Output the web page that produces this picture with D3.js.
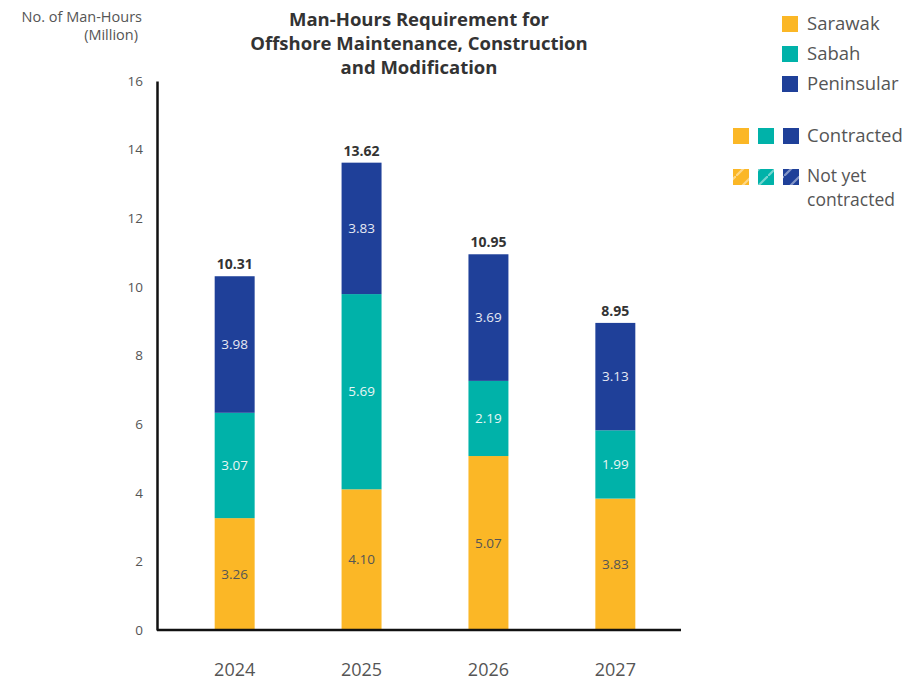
<!DOCTYPE html>
<html>
<head>
<meta charset="utf-8">
<script src="https://cdn.jsdelivr.net/npm/d3@7"></script>
<style>
  body { margin: 0; background: #fff; font-family: "Open Sans", Lato, sans-serif; }
  text { fill: #555; }
</style>
</head>
<body>
<div id="chart"></div>
<script>
// Chart values
var years = ["2024", "2025", "2026", "2027"];
var regions = ["Sarawak", "Sabah", "Peninsular"];
var sarawak = [3.26, 4.10, 5.07, 3.83];
var sabah = [3.07, 5.69, 2.19, 1.99];
var peninsular = [3.98, 3.83, 3.69, 3.13];
var totals = [10.31, 13.62, 10.95, 8.95];
var yTicks = [0, 2, 4, 6, 8, 10, 12, 14, 16];

var colors = {Sarawak: "#fbb726", Sabah: "#00b2a9", Peninsular: "#1f4099"};
var labelColors = {Sarawak: "#555", Sabah: "#e8f6f5", Peninsular: "#e6e9f3"};

const width = 905, height = 686;
var padding = {top: 81, right: 224, bottom: 56, left: 157};

var svg = d3.select("#chart").append("svg")
    .attr("width", width)
    .attr("height", height);

// Build rows for the stack
var rows = years.map((y, i) => ({year: y, Sarawak: sarawak[i], Sabah: sabah[i], Peninsular: peninsular[i]}));
var stacked = d3.stack().keys(regions)(rows);

// Scales
var xScale = d3.scaleBand()
    .domain(years)
    .range([padding.left + 12, width - padding.right])
    .paddingInner(0.685)
    .paddingOuter(0.36);

var yScale = d3.scaleLinear()
    .domain([0, 16])
    .range([height - padding.bottom, padding.top]);

// Hatch patterns for "Not yet contracted"
var defs = svg.append("defs");
regions.forEach(r => {
    var p = defs.append("pattern")
        .attr("id", "hatch-" + r)
        .attr("patternUnits", "userSpaceOnUse")
        .attr("width", 16).attr("height", 16);
    p.append("rect").attr("width", 16).attr("height", 16).attr("fill", colors[r]);
    p.append("path").attr("d", "M0,16L16,0")
        .attr("stroke", "#fff").attr("stroke-opacity", 0.45).attr("stroke-width", 2.2);
});

// Bars
var layer = svg.selectAll(".layer")
    .data(stacked)
    .enter().append("g")
    .attr("class", "layer")
    .attr("fill", d => colors[d.key]);

layer.selectAll("rect")
    .data(d => d)
    .enter().append("rect")
    .attr("x", d => xScale(d.data.year))
    .attr("y", d => yScale(d[1]))
    .attr("width", xScale.bandwidth())
    .attr("height", d => yScale(d[0]) - yScale(d[1]));

// Segment labels
stacked.forEach(s => {
    svg.append("g").selectAll("text")
        .data(s)
        .enter().append("text")
        .attr("x", d => xScale(d.data.year) + xScale.bandwidth() / 2)
        .attr("y", d => yScale((d[0] + d[1]) / 2))
        .attr("dy", "0.35em")
        .attr("text-anchor", "middle")
        .style("font-size", "13.5px")
        .style("fill", labelColors[s.key])
        .text(d => d.data[s.key].toFixed(2));
});

// Totals on top
svg.selectAll(".total")
    .data(years)
    .enter().append("text")
    .attr("class", "total")
    .attr("x", d => xScale(d) + xScale.bandwidth() / 2)
    .attr("y", (d, i) => yScale(totals[i]) - 7)
    .attr("text-anchor", "middle")
    .style("font-size", "14px")
    .style("font-weight", "bold")
    .style("fill", "#333")
    .text((d, i) => totals[i].toFixed(2));

// Y axis: line plus labels, no tick marks
var yAxis = svg.append("g")
    .attr("transform", "translate(" + padding.left + ",0)")
    .call(d3.axisLeft(yScale).tickValues(yTicks).tickSize(0).tickPadding(14));
yAxis.select(".domain").attr("stroke", "#111").attr("stroke-width", 2.5);
yAxis.selectAll("text").style("font-size", "13.5px").style("fill", "#555").style("font-family", "'Open Sans', sans-serif");

// X axis
var xAxis = svg.append("g")
    .attr("transform", "translate(0," + (height - padding.bottom) + ")")
    .call(d3.axisBottom(xScale).tickSize(0).tickPadding(33));
xAxis.select(".domain").attr("d", "M" + padding.left + ",0H681").attr("stroke", "#111").attr("stroke-width", 2.5);
xAxis.selectAll("text").style("font-size", "18px").style("fill", "#555").style("font-family", "'Open Sans', sans-serif");

// Y axis title
svg.append("text")
    .attr("x", 142).attr("y", 22)
    .attr("text-anchor", "end")
    .style("font-size", "14.5px")
    .text("No. of Man-Hours");
svg.append("text")
    .attr("x", 138).attr("y", 40)
    .attr("text-anchor", "end")
    .style("font-size", "14.5px")
    .text("(Million)");

// Chart title
["Man-Hours Requirement for", "Offshore Maintenance, Construction", "and Modification"].forEach((t, i) => {
    svg.append("text")
        .attr("x", 419).attr("y", 26 + i * 24)
        .attr("text-anchor", "middle")
        .style("font-size", "18.5px")
        .style("font-weight", "bold")
        .style("fill", "#333")
        .text(t);
});

// Legend: regions
var legend = svg.append("g");
regions.forEach((r, i) => {
    var cy = 24 + i * 30;
    legend.append("rect").attr("x", 782).attr("y", cy - 8).attr("width", 16).attr("height", 16).attr("fill", colors[r]);
    legend.append("text").attr("x", 807).attr("y", cy).attr("dy", "0.35em")
        .style("font-size", "18.5px").text(r);
});

// Legend: contracted / not yet contracted
regions.forEach((r, i) => {
    legend.append("rect").attr("x", 733 + i * 25).attr("y", 128).attr("width", 16).attr("height", 16).attr("fill", colors[r]);
    legend.append("rect").attr("x", 733 + i * 25).attr("y", 169).attr("width", 16).attr("height", 16)
        .attr("fill", "url(#hatch-" + r + ")")
        .attr("transform", "translate(0,0)");
});
legend.append("text").attr("x", 807).attr("y", 136).attr("dy", "0.35em").style("font-size", "18.5px").text("Contracted");
legend.append("text").attr("x", 807).attr("y", 176).attr("dy", "0.35em").style("font-size", "17.5px").text("Not yet");
legend.append("text").attr("x", 807).attr("y", 200).attr("dy", "0.35em").style("font-size", "17.5px").text("contracted");
</script>
</body>
</html>
